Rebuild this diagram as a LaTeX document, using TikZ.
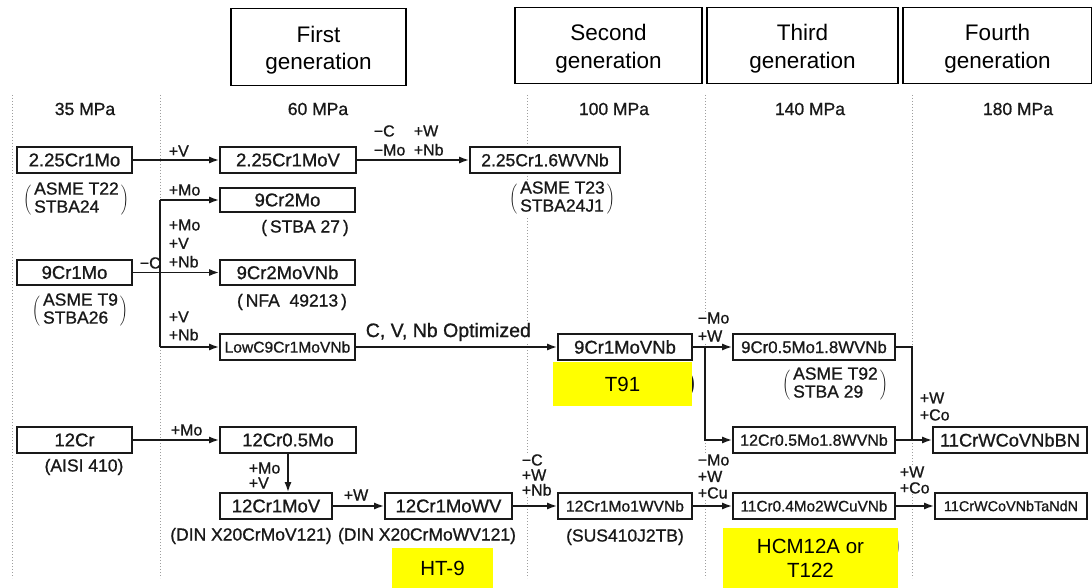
\documentclass[tikz,border=0pt]{standalone}
\usepackage{fontspec}
\setmainfont{Liberation Sans}
\newfontfamily\scanfont[FakeBold=0.9]{Liberation Sans}
\usetikzlibrary{arrows.meta}
\newcommand\myfs[2]{\fontsize{#1}{#2}\selectfont}
\newcommand\pnote[2]{$\delimiterfactor=700\delimitershortfall=12pt\left(\mbox{\kern3pt\begin{tabular}{@{}l@{}}#1\\#2\end{tabular}\kern2pt}\right)$}
\definecolor{ink}{gray}{0.1}
\definecolor{dotc}{gray}{0.62}
\definecolor{hl}{RGB}{255,255,0}
\tikzset{
 box/.style={draw=ink, line width=1.6pt, fill=white, inner sep=0pt, text=ink},
 hdr/.style={draw=black, line width=1.3pt, fill=white, inner sep=0pt},
 hdrtext/.style={inner sep=0pt, align=center, font=\myfs{22.5}{27.5}},
 lbl/.style={inner sep=0.6pt, fill=white, text=ink, align=left, anchor=west},
 note/.style={inner sep=1pt, fill=white, text=ink, font=\scanfont\myfs{17.5}{18}},
 mpa/.style={inner sep=0pt, text=ink, font=\scanfont\myfs{17.5}{18}},
 ln/.style={draw=ink, line width=1.8pt},
 arr/.style={ln, -{Latex[length=10pt,width=7pt]}},
 divl/.style={draw=dotc, line width=0.9pt, dash pattern=on 1pt off 2pt},
 hlbox/.style={fill=hl, inner sep=0pt, align=center, font=\myfs{20.5}{24}},
}
% name, x1, y1, x2, y2, text, fontsize
\newcommand\bx[7]{\node[box, font=\scanfont\myfs{#7}{#7}, minimum width={#4-#2}, minimum height={#5-#3}] (#1) at ({(#2+#4)/2},{(#3+#5)/2}) {#6};}
\newcommand\lb[5]{\node[lbl, font=\scanfont\myfs{#4}{#5}] (#1) at (#2) {#3};}
\begin{document}
\begin{tikzpicture}[x=1pt,y=-1pt]
\useasboundingbox (0,0) rectangle (1092,588);
\fill[white] (0,0) rectangle (1092,588);

% column dividers
\foreach \xx/\nm in {12/d1,160/d2,527/d3,705/d4,912/d5}{
  \coordinate (\nm t) at (\xx,95);
  \coordinate (\nm b) at (\xx,578);
  \draw[divl] (\nm t) -- (\nm b);
}

% header boxes
\node[hdr, minimum width=175, minimum height=77] (h1) at (318.5,47) {};
\node[hdr, minimum width=187, minimum height=76] (h2) at (608.5,45.5) {};
\node[hdr, minimum width=191, minimum height=76] (h3) at (802.5,45.5) {};
\node[hdr, minimum width=189, minimum height=76] (h4) at (997.5,45.5) {};
\node[hdrtext] (h1t) at (318.5,50) {First\\generation};
\node[hdrtext] (h2t) at (608.5,48.5) {Second\\generation};
\node[hdrtext] (h3t) at (802.5,48.5) {Third\\generation};
\node[hdrtext] (h4t) at (997.5,48.5) {Fourth\\generation};

% pressure labels
\node[mpa] (p1) at (85,109) {35 MPa};
\node[mpa] (p2) at (318,109) {60 MPa};
\node[mpa] (p3) at (614,109) {100 MPa};
\node[mpa] (p4) at (810,109) {140 MPa};
\node[mpa] (p5) at (1018,109) {180 MPa};

% change labels
\lb{l1}{168,151}{+V}{16}{17}
\lb{l2a}{373,140.5}{−C\\−Mo}{16}{19}
\lb{l2b}{413,140.5}{+W\\+Nb}{16}{19}
\lb{l3}{168,190}{+Mo}{16}{17}
\lb{l4}{168,243.5}{+Mo\\+V\\+Nb}{16}{18.5}
\lb{l5}{139,263}{−C}{16}{17}
\lb{l6}{168,326}{+V\\+Nb}{16}{18}
\lb{l7}{365,332}{C, V, Nb Optimized}{19.5}{19.5}
\lb{l8}{697,327}{−Mo\\+W}{16}{18}
\lb{l9}{919,406.5}{+W\\+Co}{16}{17}
\lb{l10}{170,430}{+Mo}{16}{17}
\lb{l11}{248,475.5}{+Mo\\+V}{16}{15}
\lb{l12}{343,495}{+W}{16}{17}
\lb{l13}{521,475}{−C\\+W\\+Nb}{16}{15}
\lb{l14}{697,476.5}{−Mo\\+W\\+Cu}{16}{16.5}
\lb{l15}{899,480}{+W\\+Co}{16}{16}

% material boxes
\bx{a1}{17}{147}{132}{173}{2.25Cr1Mo}{18.5}
\bx{b1}{220}{147}{356}{173}{2.25Cr1MoV}{18.5}
\bx{c1}{470}{147}{620}{173}{2.25Cr1.6WVNb}{17.5}
\bx{m2}{220}{188}{355}{212}{9Cr2Mo}{18.5}
\bx{n9}{17}{260}{132}{285}{9Cr1Mo}{18.5}
\bx{m3}{220}{260}{355}{285}{9Cr2MoVNb}{18.5}
\bx{low}{220}{334}{355}{360}{LowC9Cr1MoVNb}{15.6}
\bx{t9}{558}{334}{692}{360}{9Cr1MoVNb}{18.5}
\bx{g1}{733}{334}{895}{360}{9Cr0.5Mo1.8WVNb}{16.8}
\bx{g2}{733}{427}{895}{453}{12Cr0.5Mo1.8WVNb}{16}
\bx{bn}{933}{427}{1087}{453}{11CrWCoVNbBN}{18.3}
\bx{r12}{17}{427}{132}{453}{12Cr}{18.5}
\bx{c05}{220}{427}{356}{453}{12Cr0.5Mo}{18.5}
\bx{mov}{220}{493}{332}{519}{12Cr1MoV}{18.5}
\bx{mowv}{385}{493}{512}{519}{12Cr1MoWV}{18.5}
\bx{sus}{558}{493}{692}{519}{12Cr1Mo1WVNb}{15.6}
\bx{hcm}{733}{493}{895}{519}{11Cr0.4Mo2WCuVNb}{15.3}
\bx{tan}{935}{493}{1087}{519}{11CrWCoVNbTaNdN}{14.4}

% notes
\node[note] (nt22) at (76,200) {\pnote{ASME T22}{STBA24}};
\node[note] (nt9) at (80,311) {\pnote{ASME T9}{STBA26}};
\node[note] (nt23) at (562,199) {\pnote{ASME T23}{STBA24J1}};
\node[note] (nt92) at (835,385) {\pnote{ASME T92}{STBA 29}};
\node[note] (ns27) at (305,228) {(\,STBA 27\,)};
\node[note] (nnfa) at (292,302) {(\,NFA\ \ 49213\,)};
\node[note] (naisi) at (84,467) {(AISI 410)};
\node[note] (ndin1) at (251,536) {(DIN X20CrMoV121)};
\node[note] (ndin2) at (427,536) {(DIN X20CrMoWV121)};
\node[note] (nsus) at (625,537) {(SUS410J2TB)};

% partially hidden brackets
\node[font=\myfs{30}{30}, text=ink, anchor=east, inner sep=0pt] (pf1) at (696,385) {)};
\node[font=\myfs{26}{26}, text=black!45, anchor=east, inner sep=0pt] (pf2) at (901,547) {)};

% highlighted labels
\node[hlbox, minimum width=139, minimum height=44] (y1) at (622.5,384) {T91};
\node[hlbox, minimum width=101, minimum height=40] (y2) at (442.5,568) {HT-9};
\node[hlbox, minimum width=175, minimum height=60] (y3) at (810.5,558) {HCM12A or\\T122};

% connectors
\draw[arr] (a1.east) -- (b1.west);
\draw[arr] (b1.east) -- (c1.west);
\draw[arr] (n9.east) -- (m3.west);
\coordinate (j1) at (160,272.5);
\draw[ln] (j1 |- m2.west) -- (j1 |- low.west);
\draw[arr] (j1 |- m2.west) -- (m2.west);
\draw[arr] (j1 |- low.west) -- (low.west);
\draw[arr] (low.east) -- (t9.west);
\draw[arr] (t9.east) -- (g1.west);
\coordinate (j2) at (705,347);
\draw[arr] (j2) |- (g2.west);
\coordinate (j3) at (912,440);
\draw[ln] (g1.east) -| (j3);
\draw[arr] (g2.east) -- (bn.west);
\draw[arr] (r12.east) -- (c05.west);
\draw[arr] (c05.south -| 288,0) -- (mov.north -| 288,0);
\draw[arr] (mov.east) -- (mowv.west);
\draw[arr] (mowv.east) -- (sus.west);
\draw[arr] (sus.east) -- (hcm.west);
\draw[arr] (hcm.east) -- (tan.west);
\end{tikzpicture}
\end{document}
